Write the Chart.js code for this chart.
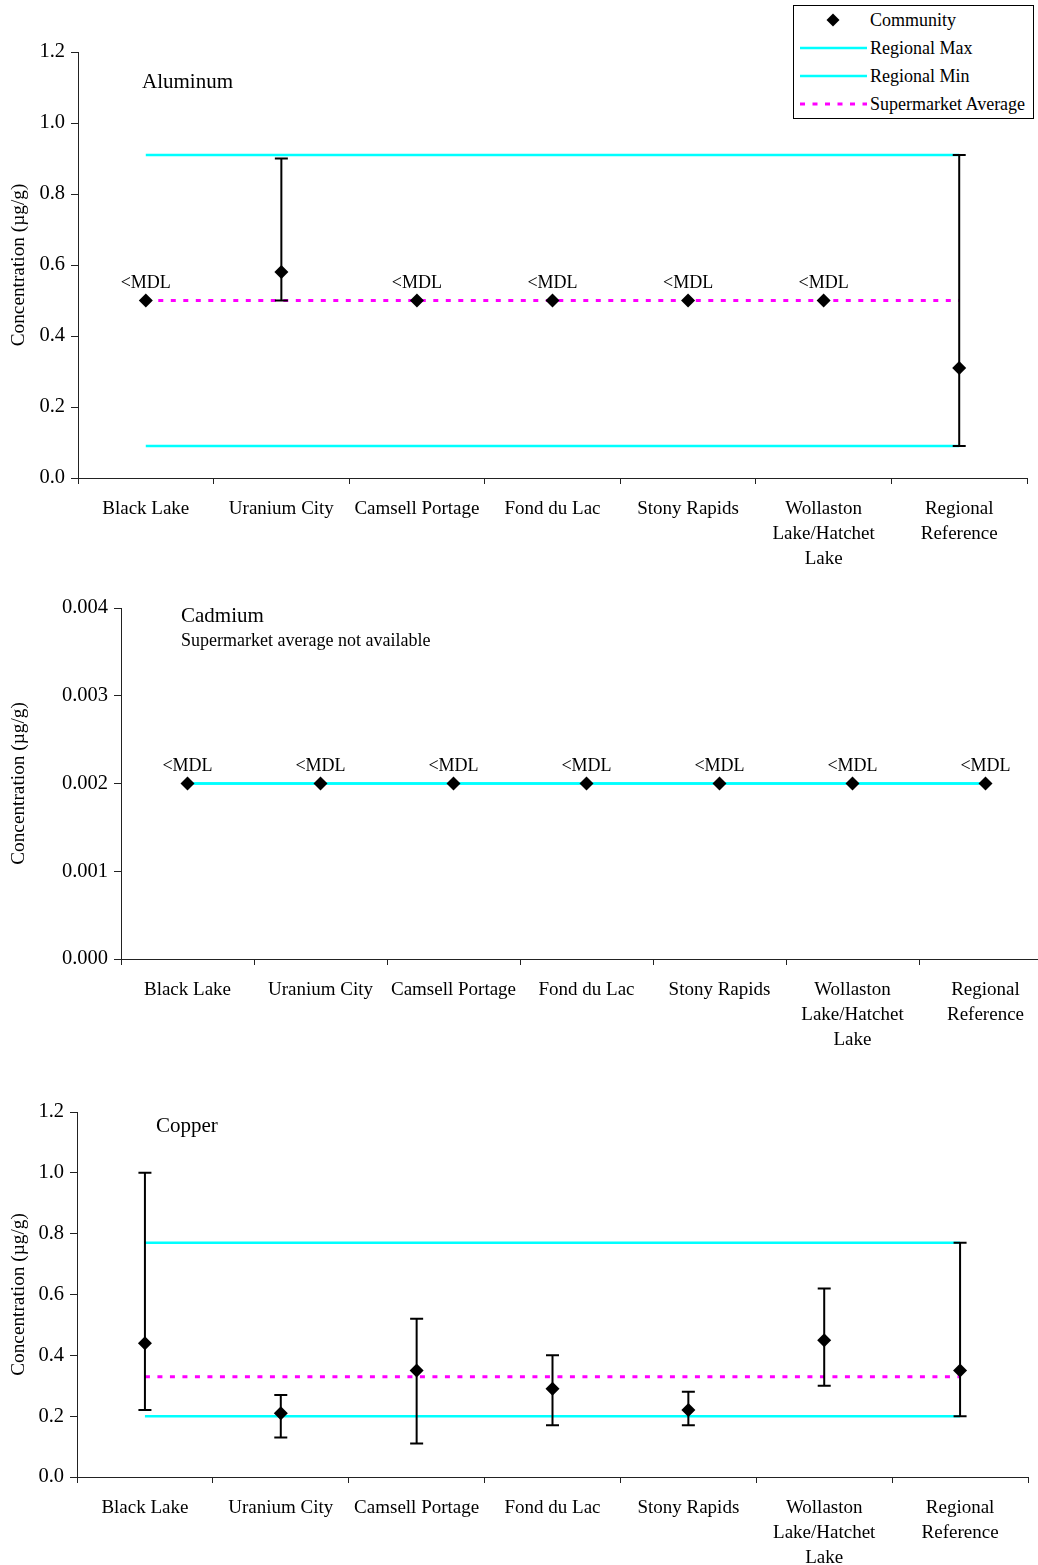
<!DOCTYPE html>
<html>
<head>
<meta charset="utf-8">
<script src="https://cdn.jsdelivr.net/npm/chart.js@4/dist/chart.umd.min.js"></script>
<style>
html, body { margin: 0; padding: 0; background: #fff; overflow: hidden; }
body { width: 1038px; height: 1565px; position: relative; font-family: 'Liberation Serif', 'Times New Roman', serif; }
canvas { position: absolute; left: 0; }
#legend { position: absolute; left: 793px; top: 5px; width: 241px; height: 114px; border: 1px solid #000; background: #fff; box-sizing: border-box; font-size: 18px; color: #000; }
#legend .row { position: relative; height: 28px; }
#legend .sw { position: absolute; left: 5px; top: 0; width: 68px; height: 28px; }
#legend .txt { position: absolute; left: 76px; top: 0; line-height: 28px; white-space: nowrap; }
</style>
</head>
<body>
<canvas id="alChart" width="1038" height="580" style="top:0px"></canvas>
<canvas id="cdChart" width="1060" height="490" style="top:580px"></canvas>
<canvas id="cuChart" width="1038" height="495" style="top:1070px"></canvas>
<div id="legend"></div>
<script>
// categories
var communities = ['Black Lake', 'Uranium City', 'Camsell Portage', 'Fond du Lac', 'Stony Rapids',
                   ['Wollaston', 'Lake/Hatchet', 'Lake'], ['Regional', 'Reference']];

// Aluminum
var alValues = [0.5, 0.58, 0.5, 0.5, 0.5, 0.5, 0.31];
var alLow    = [null, 0.5, null, null, null, null, 0.09];
var alHigh   = [null, 0.9, null, null, null, null, 0.91];
var alMdl    = [true, false, true, true, true, true, false];
var alRegMax = 0.91;
var alRegMin = 0.09;
var alSuperAvg = 0.5;

// Cadmium
var cdValues = [0.002, 0.002, 0.002, 0.002, 0.002, 0.002, 0.002];
var cdLow    = [null, null, null, null, null, null, null];
var cdHigh   = [null, null, null, null, null, null, null];
var cdMdl    = [true, true, true, true, true, true, true];
var cdRegMax = 0.002;
var cdRegMin = 0.002;
var cdSuperAvg = null;

// Copper
var cuValues = [0.44, 0.21, 0.35, 0.29, 0.22, 0.45, 0.35];
var cuLow    = [0.22, 0.13, 0.11, 0.17, 0.17, 0.30, 0.20];
var cuHigh   = [1.00, 0.27, 0.52, 0.40, 0.28, 0.62, 0.77];
var cuMdl    = [false, false, false, false, false, false, false];
var cuRegMax = 0.77;
var cuRegMin = 0.20;
var cuSuperAvg = 0.33;

var FONT = "'Liberation Serif', 'Times New Roman', serif";
Chart.defaults.font.family = FONT;
Chart.defaults.color = '#000';

var CYAN = '#00FFFF';
var MAGENTA = '#FF00FF';

// error bars + <MDL labels + panel titles
var extrasPlugin = {
    id: 'extras',
    afterDatasetsDraw: function(chart, args, opts)
    {
        var ctx = chart.ctx;
        var x = chart.scales.x, y = chart.scales.y;
        ctx.save();
        ctx.strokeStyle = '#000';
        ctx.lineWidth = 2;
        (opts.low || []).forEach(function(lo, i){
            var hi = opts.high[i];
            if (lo == null || hi == null) return;
            var px = x.getPixelForValue(i);
            var top = y.getPixelForValue(hi), bot = y.getPixelForValue(lo);
            ctx.beginPath();
            ctx.moveTo(px, top); ctx.lineTo(px, bot);
            ctx.moveTo(px - 6.5, top); ctx.lineTo(px + 6.5, top);
            ctx.moveTo(px - 6.5, bot); ctx.lineTo(px + 6.5, bot);
            ctx.stroke();
        });

        ctx.fillStyle = '#000';
        ctx.font = '18px ' + FONT;
        ctx.textAlign = 'center';
        ctx.textBaseline = 'middle';
        (opts.mdl || []).forEach(function(flag, i){
            if (!flag) return;
            var px = x.getPixelForValue(i);
            var py = y.getPixelForValue(opts.values[i]);
            ctx.fillText('<MDL', px, py - 17);
        });

        ctx.textAlign = 'left';
        (opts.texts || []).forEach(function(t){
            ctx.font = t.size + 'px ' + FONT;
            ctx.fillText(t.text, t.x, t.y);
        });
        ctx.restore();
    }
};

function buildChart(id, s)
{
    var datasets = [
        { label: 'Community', data: s.values, showLine: false, pointStyle: 'rectRot',
          pointRadius: 7, backgroundColor: '#000', borderColor: '#000', borderWidth: 0 },
        { label: 'Regional Max', data: communities.map(function(){ return s.max; }),
          borderColor: CYAN, borderWidth: 2.5, pointRadius: 0 },
        { label: 'Regional Min', data: communities.map(function(){ return s.min; }),
          borderColor: CYAN, borderWidth: 2.5, pointRadius: 0 }
    ];
    if (s.avg != null) {
        datasets.push({ label: 'Supermarket Average', data: communities.map(function(){ return s.avg; }),
          borderColor: MAGENTA, borderWidth: 3, borderDash: [5, 7.5], pointRadius: 0 });
    }

    return new Chart(document.getElementById(id), {
        type: 'line',
        data: { labels: communities, datasets: datasets },
        plugins: [extrasPlugin],
        options: {
            responsive: false,
            animation: false,
            events: [],
            layout: { padding: { top: s.padTop, right: s.padRight, left: 0, bottom: 0 } },
            plugins: {
                legend: { display: false },
                tooltip: { enabled: false },
                extras: { values: s.values, low: s.low, high: s.high, mdl: s.mdl, texts: s.texts }
            },
            scales: {
                x: {
                    offset: true,
                    grid: { offset: true, drawOnChartArea: false, tickLength: 6, color: '#222' },
                    border: { color: '#222', width: 1 },
                    ticks: { color: '#000', font: { size: 19, lineHeight: 1.32 }, maxRotation: 0, autoSkip: false, padding: 12 },
                    afterFit: function(scale){ scale.height = s.xHeight; }
                },
                y: {
                    min: 0, max: s.yMax,
                    grid: { drawOnChartArea: false, tickLength: 7, color: '#222' },
                    border: { color: '#222', width: 1 },
                    ticks: { stepSize: s.step, color: '#000', font: { size: 20.5 }, padding: 6,
                             callback: function(v){ return Number(v).toFixed(s.decimals); } },
                    title: { display: true, text: 'Concentration (µg/g)', color: '#000',
                             font: { size: 19.3 }, padding: { top: 7, bottom: 0 } },
                    afterFit: function(scale){ scale.width = s.yWidth; }
                }
            }
        }
    });
}

var alChart = buildChart('alChart', {
    values: alValues, low: alLow, high: alHigh, mdl: alMdl,
    max: alRegMax, min: alRegMin, avg: alSuperAvg,
    yMax: 1.2, step: 0.2, decimals: 1,
    padTop: 52, padRight: 11, xHeight: 102, yWidth: 78,
    texts: [{ text: 'Aluminum', x: 142, y: 82, size: 21 }]
});

buildChart('cdChart', {
    values: cdValues, low: cdLow, high: cdHigh, mdl: cdMdl,
    max: cdRegMax, min: cdRegMin, avg: cdSuperAvg,
    yMax: 0.004, step: 0.001, decimals: 3,
    padTop: 28, padRight: 8, xHeight: 111, yWidth: 121,
    texts: [{ text: 'Cadmium', x: 181, y: 36, size: 21 },
            { text: 'Supermarket average not available', x: 181, y: 61, size: 18 }]
});

buildChart('cuChart', {
    values: cuValues, low: cuLow, high: cuHigh, mdl: cuMdl,
    max: cuRegMax, min: cuRegMin, avg: cuSuperAvg,
    yMax: 1.2, step: 0.2, decimals: 1,
    padTop: 42, padRight: 10, xHeight: 88, yWidth: 77,
    texts: [{ text: 'Copper', x: 156, y: 56, size: 21 }]
});

// shared legend, built from the aluminum chart's datasets
var legend = document.getElementById('legend');
alChart.data.datasets.forEach(function(ds){
    var row = document.createElement('div');
    row.className = 'row';
    var sw = document.createElement('canvas');
    sw.className = 'sw';
    sw.width = 68; sw.height = 28;
    var c = sw.getContext('2d');
    if (ds.showLine === false) {
        c.fillStyle = '#000';
        c.beginPath();
        c.moveTo(34, 14 - 6.5); c.lineTo(40.5, 14); c.lineTo(34, 20.5); c.lineTo(27.5, 14);
        c.closePath();
        c.fill();
    } else {
        c.strokeStyle = ds.borderColor;
        c.lineWidth = ds.borderWidth;
        if (ds.borderDash) c.setLineDash(ds.borderDash);
        c.beginPath();
        c.moveTo(1, 14); c.lineTo(68, 14);
        c.stroke();
    }
    var txt = document.createElement('div');
    txt.className = 'txt';
    txt.textContent = ds.label;
    row.appendChild(sw);
    row.appendChild(txt);
    legend.appendChild(row);
});
</script>
</body>
</html>
